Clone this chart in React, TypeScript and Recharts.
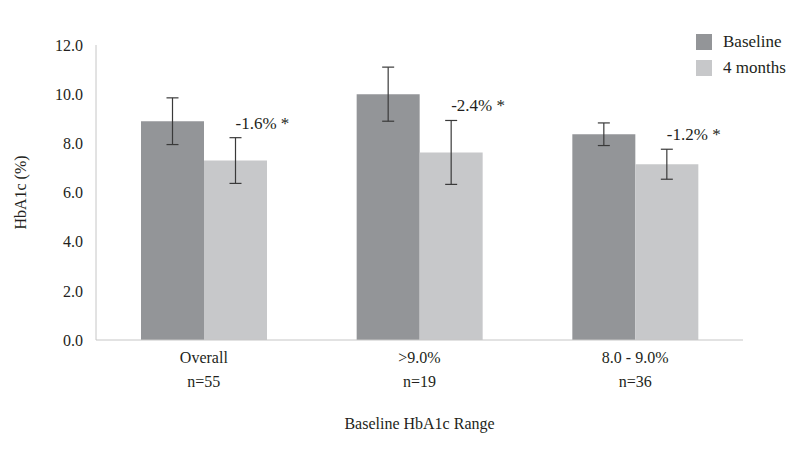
import React from "react";
import {
  BarChart,
  Bar,
  XAxis,
  YAxis,
  ErrorBar,
  LabelList,
} from "recharts";

const categories = ["Overall", ">9.0%", "8.0 - 9.0%"];
const sampleSizes = ["n=55", "n=19", "n=36"];
const baseline = [8.9, 10.0, 8.37];
const baselineErr = [0.95, 1.1, 0.46];
const fourMonths = [7.3, 7.63, 7.15];
const fourMonthsErr = [0.93, 1.3, 0.61];
const changeLabels = ["-1.6% *", "-2.4% *", "-1.2% *"];
const yTicks = [0, 2, 4, 6, 8, 10, 12];
const seriesNames = ["Baseline", "4 months"];
const seriesColors = ["#939598", "#c7c8ca"];

const data = categories.map((name, i) => ({
  name,
  baseline: baseline[i],
  baselineErr: baselineErr[i],
  fourMonths: fourMonths[i],
  fourMonthsErr: fourMonthsErr[i],
  change: changeLabels[i],
}));

const FONT = "'Liberation Serif', 'Times New Roman', serif";
const TEXT = "#231f20";
const AXIS = "#c6c6c6";

const CategoryTick = (props: any) => {
  const { x, y, payload, index } = props;
  return (
    <g transform={`translate(${x},${y})`}>
      <text textAnchor="middle" style={{ fontFamily: FONT, fontSize: 16 }} fill={TEXT}>
        <tspan x={0} y={15}>{payload.value}</tspan>
        <tspan x={0} y={39}>{sampleSizes[index]}</tspan>
      </text>
    </g>
  );
};

// label sits above the top of the 4-month error bar, starting at the bar centre
const ChangeLabel = (props: any) => {
  const { x, y, width, height, index, value } = props;
  const pxPerUnit = height / fourMonths[index];
  const errTop = y - fourMonthsErr[index] * pxPerUnit;
  return (
    <text
      x={x + width / 2}
      y={errTop - 9}
      style={{ fontFamily: FONT, fontSize: 17 }}
      fill={TEXT}
    >
      {value}
    </text>
  );
};

export default function App() {
  return (
    <div
      style={{
        position: "absolute",
        left: 0,
        top: 0,
        width: 800,
        height: 467,
        background: "#fff",
        fontFamily: FONT,
      }}
    >
      <BarChart
        width={800}
        height={467}
        data={data}
        margin={{ top: 45, right: 57, bottom: 97, left: 0 }}
        barGap={0}
        barSize={63}
        style={{ fontFamily: FONT }}
      >
        <XAxis
          dataKey="name"
          height={30}
          axisLine={{ stroke: AXIS }}
          tickLine={false}
          tick={<CategoryTick />}
          interval={0}
          label={{
            value: "Baseline HbA1c Range",
            position: "insideBottom",
            offset: -59,
            fontSize: 16,
            fill: TEXT,
            style: { fontFamily: FONT },
          }}
        />
        <YAxis
          width={96}
          domain={[0, 12]}
          ticks={yTicks}
          tickFormatter={(v: number) => v.toFixed(1)}
          axisLine={{ stroke: AXIS }}
          tickLine={false}
          tickMargin={7}
          tick={{ fontSize: 16, fill: TEXT, style: { fontFamily: FONT } }}
          label={{
            value: "HbA1c (%)",
            angle: -90,
            position: "insideLeft",
            offset: 20,
            fontSize: 16,
            fill: TEXT,
            style: { textAnchor: "middle", fontFamily: FONT },
          }}
        />
        <Bar dataKey="baseline" name={seriesNames[0]} fill={seriesColors[0]} isAnimationActive={false}>
          <ErrorBar dataKey="baselineErr" width={6} stroke="#3a3a3a" strokeWidth={1.2} />
        </Bar>
        <Bar dataKey="fourMonths" name={seriesNames[1]} fill={seriesColors[1]} isAnimationActive={false}>
          <ErrorBar dataKey="fourMonthsErr" width={6} stroke="#3a3a3a" strokeWidth={1.2} />
          <LabelList dataKey="change" content={<ChangeLabel />} />
        </Bar>
      </BarChart>
      <div
        style={{
          position: "absolute",
          left: 696,
          top: 29,
          fontSize: 17,
          color: TEXT,
        }}
      >
        {seriesNames.map((label, i) => (
          <div key={label} style={{ display: "flex", alignItems: "center", height: 26 }}>
            <span
              style={{
                width: 16,
                height: 16,
                background: seriesColors[i],
                display: "inline-block",
                marginRight: 11,
              }}
            />
            {label}
          </div>
        ))}
      </div>
    </div>
  );
}
